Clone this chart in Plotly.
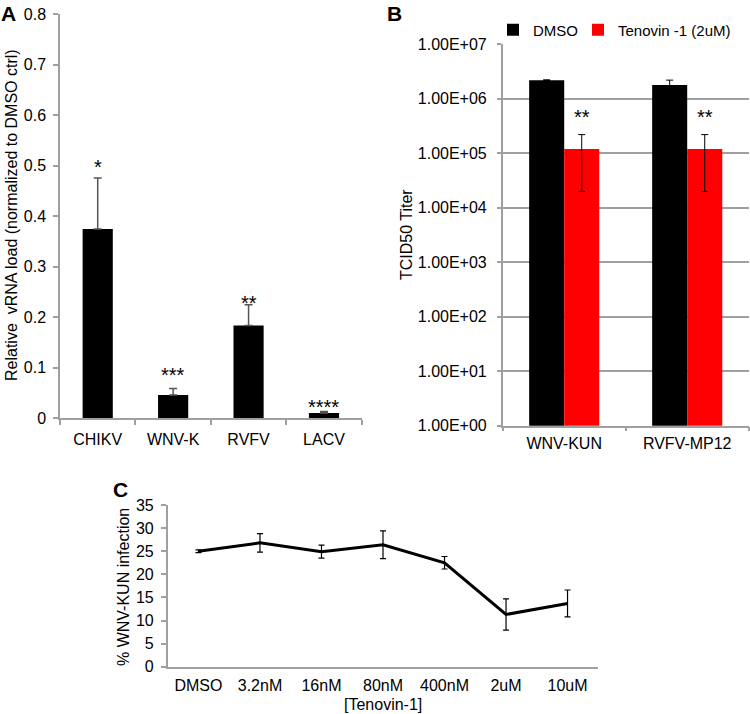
import plotly.graph_objects as go
import math

W, H = 750, 714
FONT = "Liberation Sans, Arial, sans-serif"

# ---------------- data ----------------
# Panel A
a_cats = ["CHIKV", "WNV-K", "RVFV", "LACV"]
a_vals = [0.375, 0.046, 0.184, 0.0105]
a_errs = [0.101, 0.013, 0.041, 0.003]
a_stars = ["*", "***", "**", "****"]

# Panel B
b_cats = ["WNV-KUN", "RVFV-MP12"]
b_dmso = [2.2e6, 1.8e6]
b_dmso_err = [0.03e6, 0.4e6]
b_teno = [1.2e5, 1.2e5]
b_teno_err = [1.0e5, 1.0e5]
b_stars = ["**", "**"]
b_tickvals = [1, 10, 100, 1000, 1e4, 1e5, 1e6, 1e7]
b_ticktext = ["1.00E+00", "1.00E+01", "1.00E+02", "1.00E+03",
              "1.00E+04", "1.00E+05", "1.00E+06", "1.00E+07"]

# Panel C
c_cats = ["DMSO", "3.2nM", "16nM", "80nM", "400nM", "2uM", "10uM"]
c_vals = [25.0, 26.8, 24.9, 26.4, 22.5, 11.3, 13.7]
c_errs = [0.3, 2.0, 1.4, 3.0, 1.35, 3.4, 2.9]


def xd(p0, p1):
    return [p0 / W, p1 / W]


def yd(top, bottom):
    return [1 - bottom / H, 1 - top / H]


AX = "#a0a0a0"

fig = go.Figure()

# ---- Panel A ----
fig.add_trace(go.Bar(
    x=a_cats, y=a_vals, width=0.4, marker=dict(color="black", line=dict(width=0)),
    error_y=dict(type="data", symmetric=False, array=a_errs, arrayminus=[0] * len(a_errs),
                 color="#555555", thickness=1.5, width=4),
    xaxis="x", yaxis="y", showlegend=False))

# ---- Panel B ----
bar_w = 0.285
fig.add_trace(go.Bar(
    x=b_cats, y=b_dmso, name="DMSO", width=bar_w, offset=-bar_w,
    marker=dict(color="black", line=dict(width=0)),
    error_y=dict(type="data", array=b_dmso_err, color="black", thickness=1, width=3.5),
    xaxis="x2", yaxis="y2", showlegend=True, legendwidth=40))
fig.add_trace(go.Bar(
    x=b_cats, y=b_teno, name="Tenovin -1 (2uM)", width=bar_w, offset=0,
    marker=dict(color="#ff0000", line=dict(width=0)),
    error_y=dict(type="data", array=b_teno_err, color="black", thickness=1, width=3.5),
    xaxis="x2", yaxis="y2", showlegend=True, legendwidth=125))

# ---- Panel C ----
fig.add_trace(go.Scatter(
    x=c_cats, y=c_vals, mode="lines", line=dict(color="black", width=3),
    error_y=dict(type="data", array=c_errs, color="black", thickness=1.2, width=3),
    xaxis="x3", yaxis="y3", showlegend=False))

annotations = []
# stars A
a_shift = [11, 14, 2, 4]
for i, (c, v, e, s) in enumerate(zip(a_cats, a_vals, a_errs, a_stars)):
    annotations.append(dict(x=c, y=v + e, xref="x", yref="y", text=s, showarrow=False,
                            yanchor="middle", yshift=a_shift[i],
                            font=dict(size=20, color="black", family=FONT)))
# stars B
for i, (v, e, s) in enumerate(zip(b_teno, b_teno_err, b_stars)):
    annotations.append(dict(x=i + bar_w / 2, y=math.log10(v + e), xref="x2", yref="y2",
                            text=s, showarrow=False, yanchor="middle", yshift=18,
                            font=dict(size=20, color="black", family=FONT)))
# panel letters
for letter, px, py in [("A", 8, 13), ("B", 395, 13), ("C", 120, 489)]:
    annotations.append(dict(x=px / W, y=1 - py / H, xref="paper", yref="paper",
                            text="<b>%s</b>" % letter, showarrow=False,
                            xanchor="center", yanchor="middle",
                            font=dict(size=21, color="black", family=FONT)))
# axis titles (placed in paper coordinates)
for text, px, py, ang in [
        ("Relative  vRNA load (normalized to DMSO ctrl)", 11, 215, -90),
        ("TCID50 Titer", 407, 235, -90),
        ("% WNV-KUN infection", 123, 587, -90),
        ("[Tenovin-1]", 383, 704, 0)]:
    annotations.append(dict(x=px / W, y=1 - py / H, xref="paper", yref="paper",
                            text=text.replace("  ", " &nbsp;"), textangle=ang, showarrow=False,
                            xanchor="center", yanchor="middle",
                            font=dict(size=16, color="black", family=FONT)))

axis_common = dict(showline=True, linecolor=AX, linewidth=1.5,
                   tickcolor=AX, tickwidth=1.5, zeroline=False,
                   tickfont=dict(size=16, color="black", family=FONT))

fig.update_layout(
    width=W, height=H, margin=dict(l=0, r=0, t=0, b=0, autoexpand=False),
    paper_bgcolor="white", plot_bgcolor="white",
    font=dict(family=FONT, size=16, color="black"),
    barmode="group",
    xaxis=dict(domain=xd(60, 361.7), anchor="y", type="category", range=[-0.5, 3.5],
               ticks="outside", tickson="boundaries", ticklen=5, showgrid=False,
               ticklabelstandoff=6, **axis_common),
    yaxis=dict(domain=yd(14.3, 418.3), anchor="x", range=[0, 0.8], dtick=0.1,
               ticks="outside", ticklen=5, showgrid=False, ticklabelstandoff=4,
               **axis_common),
    xaxis2=dict(domain=xd(502.7, 748.7), anchor="y2", type="category", range=[-0.5, 1.5],
                ticks="outside", tickson="boundaries", ticklen=4, showgrid=False,
                ticklabelstandoff=2, **axis_common),
    yaxis2=dict(domain=yd(44.3, 425.7), anchor="x2", type="log", range=[0, 7],
                tickvals=b_tickvals, ticktext=b_ticktext, ticks="outside", ticklen=4,
                showgrid=True, gridcolor=AX, gridwidth=1.5, ticklabelstandoff=7,
                **axis_common),
    xaxis3=dict(domain=xd(167.7, 598.3), anchor="y3", type="category", range=[-0.5, 6.5],
                ticks="", showgrid=False, ticklabelstandoff=3,
                **axis_common),
    yaxis3=dict(domain=yd(505, 666.7), anchor="x3", range=[0, 35], dtick=5,
                ticks="outside", ticklen=5, showgrid=False, ticklabelstandoff=4,
                **axis_common),
    legend=dict(orientation="h", x=493 / W, y=1 - 30 / H, xanchor="left", yanchor="middle",
                font=dict(size=15, family=FONT, color="black"), bgcolor="rgba(0,0,0,0)",
                itemwidth=30, traceorder="normal"),
    annotations=annotations,
)

fig.write_html("out.html", config={"displayModeBar": False},
               post_script="document.body.style.margin='0';document.body.style.overflow='hidden';")
